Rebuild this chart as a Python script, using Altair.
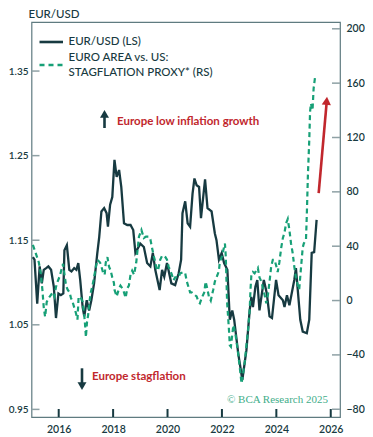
import altair as alt
import pandas as pd

# ---------------- data ----------------
eur_year = [
    2015.05, 2015.11, 2015.21, 2015.30, 2015.38, 2015.45, 2015.54, 2015.62, 2015.72, 2015.82, 2015.90, 2015.99,
    2016.08, 2016.17, 2016.21, 2016.30, 2016.39, 2016.47, 2016.57, 2016.65, 2016.72, 2016.79, 2016.88, 2016.94,
    2017.03, 2017.12, 2017.20, 2017.30, 2017.42, 2017.49, 2017.57, 2017.67, 2017.76, 2017.81, 2017.89, 2017.97,
    2018.05, 2018.13, 2018.22, 2018.30, 2018.40, 2018.52, 2018.64, 2018.74, 2018.82,
    2019.00, 2019.13, 2019.25, 2019.37, 2019.46, 2019.55, 2019.71, 2019.80, 2019.88, 2019.98,
    2020.14, 2020.28, 2020.41, 2020.50, 2020.55, 2020.65, 2020.74, 2020.83, 2020.92, 2020.99,
    2021.07, 2021.16, 2021.23, 2021.38, 2021.47, 2021.62, 2021.74, 2021.80, 2021.89, 2021.99,
    2022.08, 2022.20, 2022.29, 2022.38, 2022.45, 2022.60, 2022.75, 2022.90,
    2023.02, 2023.08, 2023.14, 2023.23, 2023.30, 2023.38, 2023.54, 2023.65, 2023.75, 2023.84, 2023.99,
    2024.08, 2024.24, 2024.30, 2024.39, 2024.48, 2024.66, 2024.72, 2024.88, 2024.97,
    2025.12, 2025.21, 2025.30, 2025.39, 2025.48,
]
eur_val = [
    1.130, 1.127, 1.075, 1.119, 1.099, 1.115, 1.117, 1.119, 1.115, 1.095, 1.058, 1.087,
    1.085, 1.087, 1.138, 1.144, 1.115, 1.113, 1.117, 1.115, 1.123, 1.103, 1.071, 1.060,
    1.079, 1.067, 1.079, 1.099, 1.135, 1.154, 1.184, 1.188, 1.182, 1.166, 1.192, 1.201,
    1.245, 1.225, 1.233, 1.213, 1.170, 1.168, 1.168, 1.162, 1.135,
    1.146, 1.142, 1.123, 1.119, 1.135, 1.115, 1.091, 1.115, 1.107, 1.123,
    1.099, 1.097, 1.111, 1.127, 1.182, 1.196, 1.170, 1.166, 1.205, 1.223,
    1.215, 1.213, 1.176, 1.222, 1.188, 1.184, 1.158, 1.150, 1.127, 1.135,
    1.123, 1.115, 1.056, 1.067, 1.056, 1.016, 0.985, 1.020,
    1.067, 1.083, 1.071, 1.095, 1.103, 1.067, 1.103, 1.087, 1.060, 1.058, 1.103,
    1.085, 1.079, 1.071, 1.085, 1.073, 1.103, 1.117, 1.056, 1.042,
    1.040, 1.056, 1.135, 1.136, 1.174,
]

proxy_year = [
    2015.05, 2015.12, 2015.22, 2015.27, 2015.34, 2015.40, 2015.45, 2015.50, 2015.56, 2015.64, 2015.71, 2015.78, 2015.84, 2015.90, 2015.96,
    2016.04, 2016.09, 2016.16, 2016.27, 2016.33, 2016.40, 2016.45, 2016.51, 2016.57, 2016.63, 2016.69, 2016.73, 2016.79, 2016.88, 2016.94, 2016.97,
    2017.00, 2017.04, 2017.08, 2017.13, 2017.18, 2017.24, 2017.30, 2017.36, 2017.42, 2017.52, 2017.57, 2017.64, 2017.69, 2017.73, 2017.79, 2017.85, 2017.91, 2017.97,
    2018.03, 2018.05, 2018.13, 2018.22, 2018.27, 2018.34, 2018.40, 2018.46, 2018.52, 2018.58, 2018.64, 2018.70, 2018.77, 2018.85, 2018.95,
    2019.04, 2019.13, 2019.21, 2019.31, 2019.37, 2019.43, 2019.49, 2019.53, 2019.59, 2019.65, 2019.73, 2019.80, 2019.86, 2019.92, 2019.98,
    2020.04, 2020.10, 2020.16, 2020.22, 2020.28, 2020.41, 2020.46, 2020.59, 2020.65, 2020.71, 2020.77, 2020.83, 2020.89,
    2021.01, 2021.07, 2021.14, 2021.19, 2021.26, 2021.35, 2021.40, 2021.47, 2021.52, 2021.59, 2021.68, 2021.74, 2021.84, 2021.89, 2021.92, 2021.99,
    2022.05, 2022.11, 2022.14, 2022.19, 2022.23, 2022.26, 2022.29, 2022.33, 2022.42, 2022.50, 2022.59, 2022.66, 2022.72, 2022.77, 2022.84, 2022.90, 2022.96,
    2023.02, 2023.05, 2023.08, 2023.14, 2023.20, 2023.26, 2023.32, 2023.38, 2023.45, 2023.51, 2023.57, 2023.63, 2023.69, 2023.75, 2023.81, 2023.87, 2023.93, 2023.99,
    2024.05, 2024.11, 2024.18, 2024.24, 2024.30, 2024.36, 2024.42, 2024.48, 2024.54, 2024.60, 2024.66, 2024.72, 2024.78, 2024.84, 2024.91, 2024.97,
    2025.01, 2025.09, 2025.12, 2025.16, 2025.21, 2025.24, 2025.27, 2025.31, 2025.33, 2025.37, 2025.42,
]
proxy_val = [
    41, 37, 31, 28, 20, 8, -5, -12, -1, 2, 4, 6, 3, 10, 14,
    18, 22, 27, 11, 8, 6, 2, -1, -5, -9, -14, 2, 3, -1, -11, -18,
    -27, -16, -11, -1, 6, 11, 17, 24, 30, 28, 25, 20, 19, 28, 32, 25, 22, 17,
    13, 8, 3, 9, 11, 9, 6, 2, 9, 11, 19, 22, 19, 28, 47,
    52, 46, 47, 47, 45, 39, 33, 30, 24, 22, 30, 33, 33, 32, 30,
    25, 22, 19, 15, 17, 17, 20, 21, 20, 14, 10, 6, 6,
    4, 3, -1, -2, 2, 6, 14, 8, 3, 0, 8, 14, 19, 22, 28, 32,
    37, 42, 33, -1, -13, -22, -33, -34, -18, -25, -38, -50, -61, -55, -45, -33, -22,
    -7, 8, 18, 21, 20, 22, 24, 17, 14, 9, 4, -2, 4, 14, 25, 30, 30, 26,
    21, 28, 39, 46, 50, 57, 60, 52, 42, 35, 25, 17, 12, 8, 25, 39,
    42, 45, 63, 92, 118, 139, 145, 142, 140, 156, 164,
]

x_ticks = [2016, 2018, 2020, 2022, 2024, 2026]
left_ticks = [0.95, 1.05, 1.15, 1.25, 1.35]
right_ticks = [-80, -40, 0, 40, 80, 120, 160, 200]

arrow_year = [2025.556, 2025.85]
arrow_val = [79, 146]
arrow_head_year = [2025.85]
arrow_head_val = [147]

legend_labels = ["EUR/USD (LS)", "EURO AREA vs. US:", "STAGFLATION PROXY* (RS)"]

# ---------------- styling ----------------
PL = 23.5            # left padding (plot starts at page x = 31.5)
W, H = 308.5, 395
DARK = "#173a41"
GREEN = "#17a077"
RED = "#c1272d"
FRAME = "#5f7b80"
TICKGRAY = "#8fa1a5"
FONT = "Lato"

eur_df = pd.DataFrame({"x": eur_year, "y": eur_val})
proxy_df = pd.DataFrame({"x": proxy_year, "r": proxy_val})
arrow_df = pd.DataFrame({"x": arrow_year, "r": arrow_val})
head_df = pd.DataFrame({"x": arrow_head_year, "r": arrow_head_val})
lt_df = pd.DataFrame({"y": left_ticks})
rt_df = pd.DataFrame({"r": right_ticks})
xt_df = pd.DataFrame({"x": x_ticks})
one = pd.DataFrame({"a": [0]})

xscale = alt.Scale(domain=[2015.0, 2026.34], nice=False, zero=False)
lscale = alt.Scale(domain=[0.941, 1.408], nice=False, zero=False)
rscale = alt.Scale(domain=[-85.7, 205], nice=False, zero=False)

# identical x encoding (same axis) everywhere so the shared axis merges cleanly
X = alt.X("x:Q", scale=xscale, title=None,
          axis=alt.Axis(values=x_ticks, format="d", ticks=False, domain=False,
                        grid=False, labelPadding=7, labelFontSize=10.5))
YL = alt.Y("y:Q", scale=lscale, title=None,
           axis=alt.Axis(orient="left", values=left_ticks, format=".2f", ticks=False,
                         domain=False, grid=False, labelPadding=3.5, labelFontSize=10))
YR = alt.Y("r:Q", scale=rscale, title=None,
           axis=alt.Axis(orient="right", values=right_ticks, format="d",
                         ticks=False, domain=False, grid=False, labelPadding=6, labelFontSize=10.5))

# main series: EUR/USD on the left scale, proxy on the right scale
eur_line = alt.Chart(eur_df).mark_line(color=DARK, strokeWidth=2.3).encode(x=X, y=YL)
left_tick_rules = alt.Chart(lt_df).mark_rule(color=TICKGRAY, strokeWidth=1.5).encode(
    y=YL, x=alt.value(0), x2=alt.value(8))
left_group = alt.layer(eur_line, left_tick_rules)

proxy_line = alt.Chart(proxy_df).mark_line(color=GREEN, strokeWidth=2.2, strokeDash=[5, 3.5]).encode(x=X, y=YR)
right_tick_rules = alt.Chart(rt_df).mark_rule(color=TICKGRAY, strokeWidth=1.5).encode(
    y=YR, x=alt.value(W - 8), x2=alt.value(W))
red_arrow = alt.Chart(arrow_df).mark_line(color=RED, strokeWidth=2.6).encode(x=X, y=YR)
red_head = alt.Chart(head_df).mark_point(shape="triangle-up", filled=True, size=85, angle=5,
                                          color=RED, opacity=1).encode(x=X, y=YR)
right_group = alt.layer(proxy_line, right_tick_rules, red_arrow, red_head)

dual = alt.layer(left_group, right_group).resolve_scale(y="independent")

# bottom inward ticks
x_tick_rules = alt.Chart(xt_df).mark_rule(color=DARK, strokeWidth=2).encode(
    x=X, y=alt.value(H - 8), y2=alt.value(H))

# annotations in pixel space
def txt(s, x, y, size=11.5, weight=500, color=DARK, font=FONT, baseline="middle"):
    return alt.Chart(one).mark_text(text=s, align="left", baseline=baseline, fontSize=size,
                                    fontWeight=weight, color=color, font=font).encode(
        x=alt.value(x), y=alt.value(y))

title = txt("EUR/USD", -3, -13.5, size=11.5, weight=500, baseline="top")
leg_dark = alt.Chart(one).mark_rule(color=DARK, strokeWidth=2.6).encode(
    x=alt.value(8), x2=alt.value(31.5), y=alt.value(20))
leg_green = alt.Chart(one).mark_rule(color=GREEN, strokeWidth=2.4, strokeDash=[5, 4]).encode(
    x=alt.value(8), x2=alt.value(32.5), y=alt.value(43))
leg_t1 = txt(legend_labels[0], 37, 20)
leg_t2 = txt(legend_labels[1], 37, 36.3)
leg_t3 = txt(legend_labels[2], 37, 50.8)

up_shaft = alt.Chart(one).mark_rule(color=DARK, strokeWidth=2.6).encode(
    x=alt.value(73), y=alt.value(93), y2=alt.value(106))
up_head = alt.Chart(one).mark_point(shape="triangle-up", filled=True, size=80, color=DARK, opacity=1).encode(
    x=alt.value(73), y=alt.value(91.9))
dn_shaft = alt.Chart(one).mark_rule(color=DARK, strokeWidth=2.6).encode(
    x=alt.value(50.5), y=alt.value(346.3), y2=alt.value(362))
dn_head = alt.Chart(one).mark_point(shape="triangle-down", filled=True, size=80, color=DARK, opacity=1).encode(
    x=alt.value(50.5), y=alt.value(364.1))

ann_up = txt("Europe low inflation growth", 85.5, 100, size=11.5, weight="bold", color=RED)
ann_dn = txt("Europe stagflation", 60.5, 355, size=11.5, weight="bold", color=RED)
copy = txt("© BCA Research 2025", 195.5, 378, size=11, weight="normal", color="#3fae8a",
           font="Liberation Serif")

chart = alt.layer(
    dual, x_tick_rules,
    title, leg_dark, leg_green, leg_t1, leg_t2, leg_t3,
    up_shaft, up_head, dn_shaft, dn_head, ann_up, ann_dn, copy,
).resolve_scale(y="independent").properties(
    width=W, height=H,
    autosize=alt.AutoSizeParams(type="none"),
    padding={"left": PL, "top": 14, "right": 25, "bottom": 22},
    background="white",
).configure_view(stroke=FRAME, strokeWidth=1.2).configure_axis(
    labelFont=FONT, labelColor=DARK, labelFontWeight=600,
)

chart.save("out.html", embed_options={"renderer": "svg", "actions": False})
